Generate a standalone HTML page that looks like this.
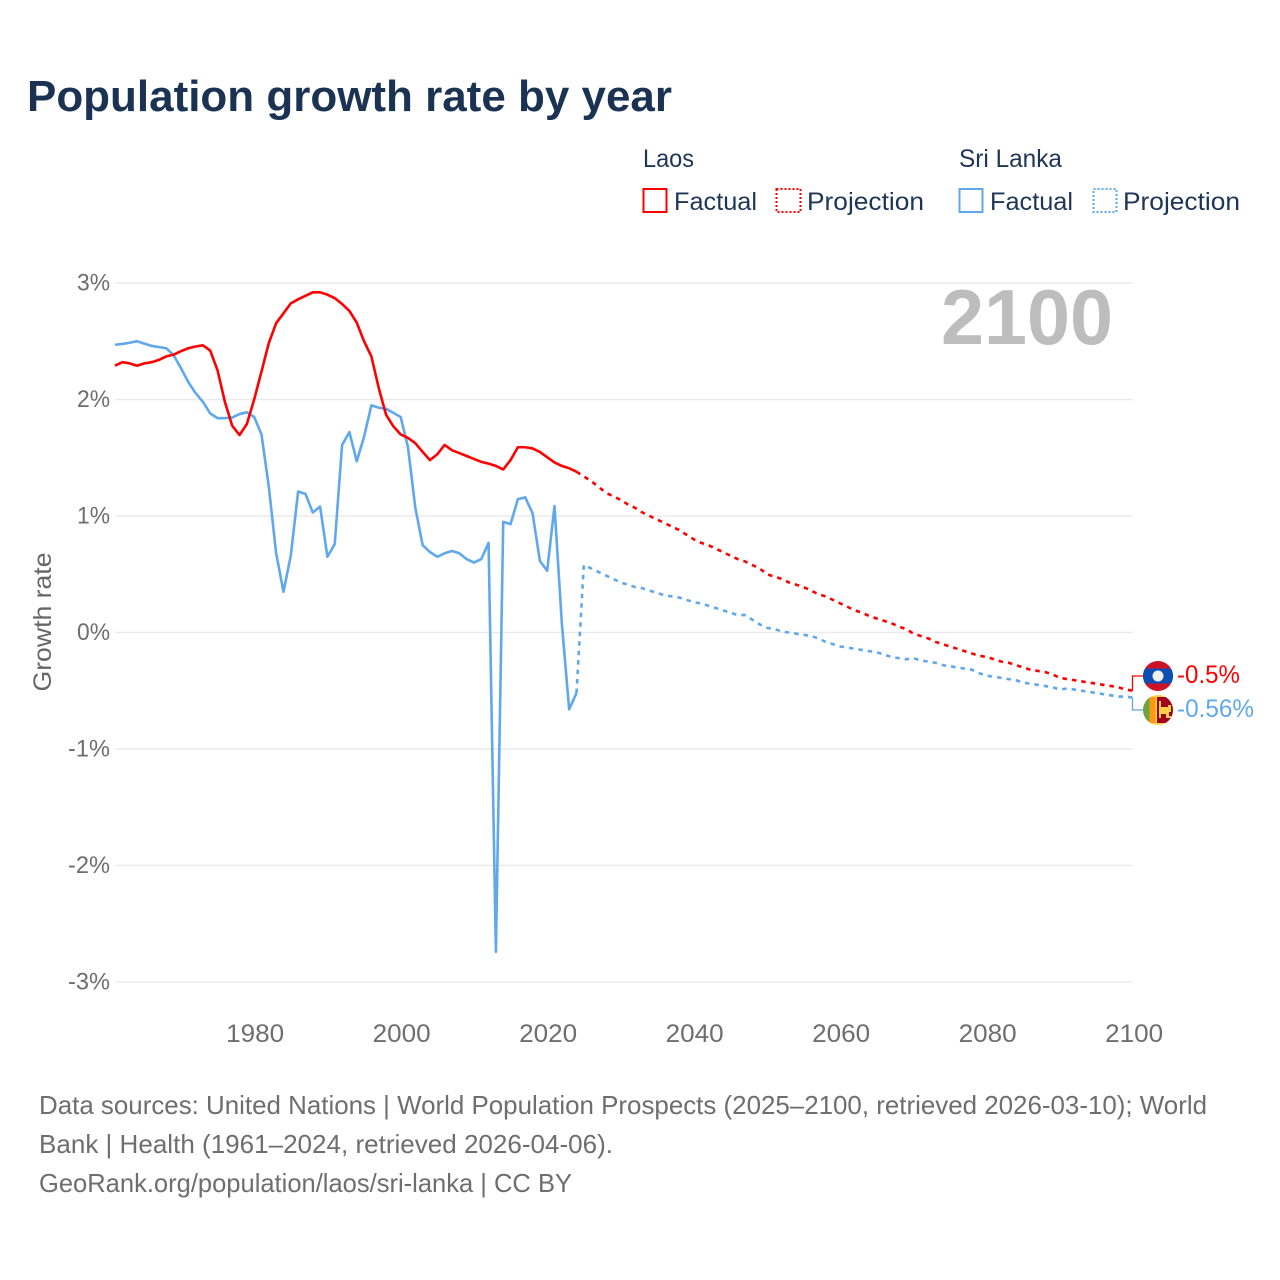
<!DOCTYPE html>
<html lang="en">
<head>
<meta charset="utf-8">
<title>Population growth rate by year</title>
<style>
html,body{margin:0;padding:0;background:#fff;width:1280px;height:1280px;overflow:hidden}
svg{display:block}
text{font-family:"Liberation Sans",sans-serif}
</style>
</head>
<body>
<svg id="chart" xmlns="http://www.w3.org/2000/svg" width="1280" height="1280" viewBox="0 0 1280 1280">
  <defs>
    <clipPath id="laos-clip"><circle cx="1158" cy="676" r="15"/></clipPath>
    <clipPath id="lanka-clip"><circle cx="1158" cy="710" r="15"/></clipPath>
  </defs>
  <rect width="1280" height="1280" fill="#fff"/>
  <text x="27" y="111" font-size="44" font-weight="700" fill="#1a3353" textLength="645" lengthAdjust="spacingAndGlyphs">Population growth rate by year</text>

  <g font-size="25" fill="#1d3557">
    <text x="643" y="167" textLength="51" lengthAdjust="spacingAndGlyphs">Laos</text>
    <text x="959" y="167" textLength="103" lengthAdjust="spacingAndGlyphs">Sri Lanka</text>
    <rect x="643.5" y="189" width="23" height="23" fill="none" stroke="#ff0000" stroke-width="2"/>
    <text x="674" y="210" textLength="83" lengthAdjust="spacingAndGlyphs">Factual</text>
    <rect x="776.5" y="189" width="24" height="23" fill="none" stroke="#ff0000" stroke-width="2" stroke-dasharray="2 2"/>
    <text x="807" y="210" textLength="117" lengthAdjust="spacingAndGlyphs">Projection</text>
    <rect x="959.5" y="189" width="23" height="23" fill="none" stroke="#5fa8ee" stroke-width="2"/>
    <text x="990" y="210" textLength="83" lengthAdjust="spacingAndGlyphs">Factual</text>
    <rect x="1093.5" y="189" width="23" height="23" fill="none" stroke="#5fa8ee" stroke-width="2" stroke-dasharray="2 2"/>
    <text x="1123" y="210" textLength="117" lengthAdjust="spacingAndGlyphs">Projection</text>
  </g>

  <g id="grid"></g>
  <g id="ylabels"></g>
  <g id="xlabels"></g>
  <text transform="translate(51 622) rotate(-90)" text-anchor="middle" font-size="25" fill="#666" textLength="139" lengthAdjust="spacingAndGlyphs">Growth rate</text>
  <text x="941" y="344" font-size="78" font-weight="700" fill="#bdbdbd" textLength="172" lengthAdjust="spacingAndGlyphs">2100</text>
  <g id="series"></g>

  <g clip-path="url(#laos-clip)">
    <rect x="1143" y="661" width="30" height="30" fill="#ce1126"/>
    <rect x="1143" y="668.5" width="30" height="15" fill="#0b4fb3"/>
    <circle cx="1158" cy="676" r="5.5" fill="#f0f0f0"/>
  </g>
  <g clip-path="url(#lanka-clip)">
    <rect x="1143" y="695" width="30" height="30" fill="#ffd24a"/>
    <rect x="1143" y="697" width="6.5" height="26" fill="#6da544"/>
    <rect x="1149.5" y="697" width="6" height="26" fill="#ff9811"/>
    <rect x="1157" y="697" width="16" height="26" fill="#a2001d"/>
    <path d="M1159 701h2v6h7v-2h3v7h-2v4h2v2h-5v-4h-5v4h-2z" fill="#ffd24a"/>
  </g>

  <g font-size="26" fill="#6e6e6e">
    <text x="39" y="1114" textLength="1168" lengthAdjust="spacingAndGlyphs">Data sources: United Nations | World Population Prospects (2025–2100, retrieved 2026-03-10); World</text>
    <text x="39" y="1153" textLength="574" lengthAdjust="spacingAndGlyphs">Bank | Health (1961–2024, retrieved 2026-04-06).</text>
    <text x="39" y="1192" textLength="533" lengthAdjust="spacingAndGlyphs">GeoRank.org/population/laos/sri-lanka | CC BY</text>
  </g>
</svg>
<script>
const yTicks = [3, 2, 1, 0, -1, -2, -3];
const yTickLabels = ["3%", "2%", "1%", "0%", "-1%", "-2%", "-3%"];
const xTicks = [1980, 2000, 2020, 2040, 2060, 2080, 2100];
const startYear = 1961;
const laosFactual = [2.29,2.32,2.31,2.29,2.31,2.32,2.34,2.37,2.385,2.415,2.44,2.455,2.465,2.42,2.25,1.98,1.775,1.695,1.79,2.0,2.24,2.485,2.655,2.74,2.825,2.86,2.89,2.92,2.92,2.90,2.87,2.82,2.76,2.66,2.5,2.37,2.1,1.87,1.77,1.70,1.67,1.625,1.55,1.48,1.53,1.61,1.565,1.54,1.515,1.49,1.465,1.45,1.43,1.40,1.48,1.59,1.59,1.58,1.55,1.505,1.46,1.43,1.41,1.38];
const laosProjection = [1.34,1.30,1.25,1.20,1.17,1.14,1.10,1.07,1.03,1.00,0.97,0.94,0.91,0.88,0.84,0.80,0.77,0.75,0.72,0.69,0.66,0.63,0.61,0.58,0.55,0.50,0.48,0.46,0.43,0.41,0.39,0.36,0.33,0.31,0.28,0.25,0.22,0.19,0.17,0.14,0.12,0.10,0.08,0.05,0.03,-0.01,-0.03,-0.05,-0.08,-0.10,-0.12,-0.14,-0.16,-0.18,-0.20,-0.21,-0.23,-0.25,-0.26,-0.28,-0.30,-0.32,-0.33,-0.34,-0.36,-0.39,-0.40,-0.41,-0.42,-0.43,-0.44,-0.45,-0.46,-0.47,-0.49,-0.50];
const lankaFactual = [2.47,2.477,2.487,2.50,2.48,2.46,2.45,2.44,2.38,2.27,2.15,2.055,1.98,1.88,1.84,1.84,1.845,1.875,1.89,1.85,1.70,1.25,0.68,0.35,0.66,1.21,1.19,1.03,1.08,0.65,0.76,1.61,1.72,1.47,1.68,1.95,1.93,1.92,1.885,1.85,1.59,1.07,0.75,0.69,0.65,0.68,0.70,0.68,0.63,0.60,0.63,0.77,-2.74,0.95,0.93,1.145,1.16,1.025,0.615,0.53,1.085,0.08,-0.66,-0.52];
const lankaProjection = [0.58,0.55,0.52,0.49,0.46,0.43,0.41,0.39,0.38,0.36,0.34,0.32,0.31,0.30,0.28,0.26,0.25,0.23,0.21,0.19,0.17,0.15,0.15,0.11,0.07,0.04,0.03,0.01,0.0,-0.01,-0.02,-0.03,-0.05,-0.08,-0.10,-0.12,-0.13,-0.14,-0.15,-0.16,-0.17,-0.19,-0.21,-0.22,-0.23,-0.22,-0.24,-0.25,-0.26,-0.28,-0.29,-0.30,-0.31,-0.32,-0.35,-0.37,-0.38,-0.39,-0.40,-0.41,-0.43,-0.44,-0.45,-0.46,-0.47,-0.49,-0.48,-0.49,-0.50,-0.51,-0.52,-0.53,-0.54,-0.55,-0.55,-0.56];

const NS = "http://www.w3.org/2000/svg";
const xScale = function (year) { return 115 + (year - startYear) * 7.325; };
const yScale = function (v) { return 632.5 - v * 116.5; };
const gridG = document.getElementById("grid");
const yLabelG = document.getElementById("ylabels");
const xLabelG = document.getElementById("xlabels");
const seriesG = document.getElementById("series");

yTicks.forEach(function (t, i) {
  const line = document.createElementNS(NS, "line");
  
  
  line.setAttribute("x1", 115);
  line.setAttribute("x2", 1133);
  line.setAttribute("y1", yScale(t));
  line.setAttribute("y2", yScale(t));
  line.setAttribute("stroke", "#ebebeb");
  line.setAttribute("stroke-width", "1.5");
  gridG.appendChild(line);
  const label = document.createElementNS(NS, "text");
  
  
  label.setAttribute("x", 110);
  label.setAttribute("y", yScale(t) + 7.5);
  label.setAttribute("text-anchor", "end");
  label.setAttribute("font-size", "24.5");
  label.setAttribute("fill", "#6e6e6e");
  label.setAttribute("textLength", yTickLabels[i].length === 2 ? 33 : 42);
  label.setAttribute("lengthAdjust", "spacingAndGlyphs");
  label.textContent = yTickLabels[i];
  yLabelG.appendChild(label);
});

xTicks.forEach(function (year) {
  const label = document.createElementNS(NS, "text");
  
  
  label.setAttribute("x", xScale(year) + 1);
  label.setAttribute("y", 1042);
  label.setAttribute("text-anchor", "middle");
  label.setAttribute("font-size", "25");
  label.setAttribute("fill", "#6e6e6e");
  label.setAttribute("textLength", 58);
  label.setAttribute("lengthAdjust", "spacingAndGlyphs");
  label.textContent = year;
  xLabelG.appendChild(label);
});

function pathFrom(values, firstYear) {
  return values.map(function (v, i) {
    return (i ? "L" : "M") + xScale(firstYear + i).toFixed(2) + " " + yScale(v).toFixed(2);
  }).join("");
}

function drawLine(values, firstYear, color, dashed, name) {
  const p = document.createElementNS(NS, "path");
  
  
  p.setAttribute("d", pathFrom(values, firstYear));
  p.setAttribute("fill", "none");
  p.setAttribute("stroke", color);
  p.setAttribute("stroke-width", "2.6");
  p.setAttribute("stroke-linejoin", "round");
  if (dashed) { p.setAttribute("stroke-dasharray", "4.5 5"); }
  seriesG.appendChild(p);
}

const lastFactualYear = startYear + laosFactual.length - 1;
drawLine(lankaFactual, startYear, "#5fa8ee", false, "sri-lanka-factual-line");
drawLine(laosFactual, startYear, "#ff0000", false, "laos-factual-line");
drawLine([lankaFactual[lankaFactual.length - 1]].concat(lankaProjection), lastFactualYear, "#5fa8ee", true, "sri-lanka-projection-line");
drawLine([laosFactual[laosFactual.length - 1]].concat(laosProjection), lastFactualYear, "#ff0000", true, "laos-projection-line");

function drawEnd(value, labelText, labelWidth, flagY, color, name) {
  const leader = document.createElementNS(NS, "path");
  
  
  leader.setAttribute("d", "M1132.5 " + yScale(value).toFixed(1) + "V" + flagY + "H1143");
  leader.setAttribute("fill", "none");
  leader.setAttribute("stroke", color);
  leader.setAttribute("stroke-width", "1.3");
  seriesG.appendChild(leader);
  const label = document.createElementNS(NS, "text");
  
  
  label.setAttribute("x", 1177);
  label.setAttribute("y", flagY + 7);
  label.setAttribute("font-size", "25");
  label.setAttribute("fill", color);
  label.setAttribute("textLength", labelWidth);
  label.setAttribute("lengthAdjust", "spacingAndGlyphs");
  label.textContent = labelText;
  seriesG.appendChild(label);
}

drawEnd(laosProjection[laosProjection.length - 1], laosProjection[laosProjection.length - 1] + "%", 63, 676, "#ff0000", "laos");
drawEnd(lankaProjection[lankaProjection.length - 1], lankaProjection[lankaProjection.length - 1] + "%", 77, 710, "#5fa8ee", "sri-lanka");
</script>
</body>
</html>
